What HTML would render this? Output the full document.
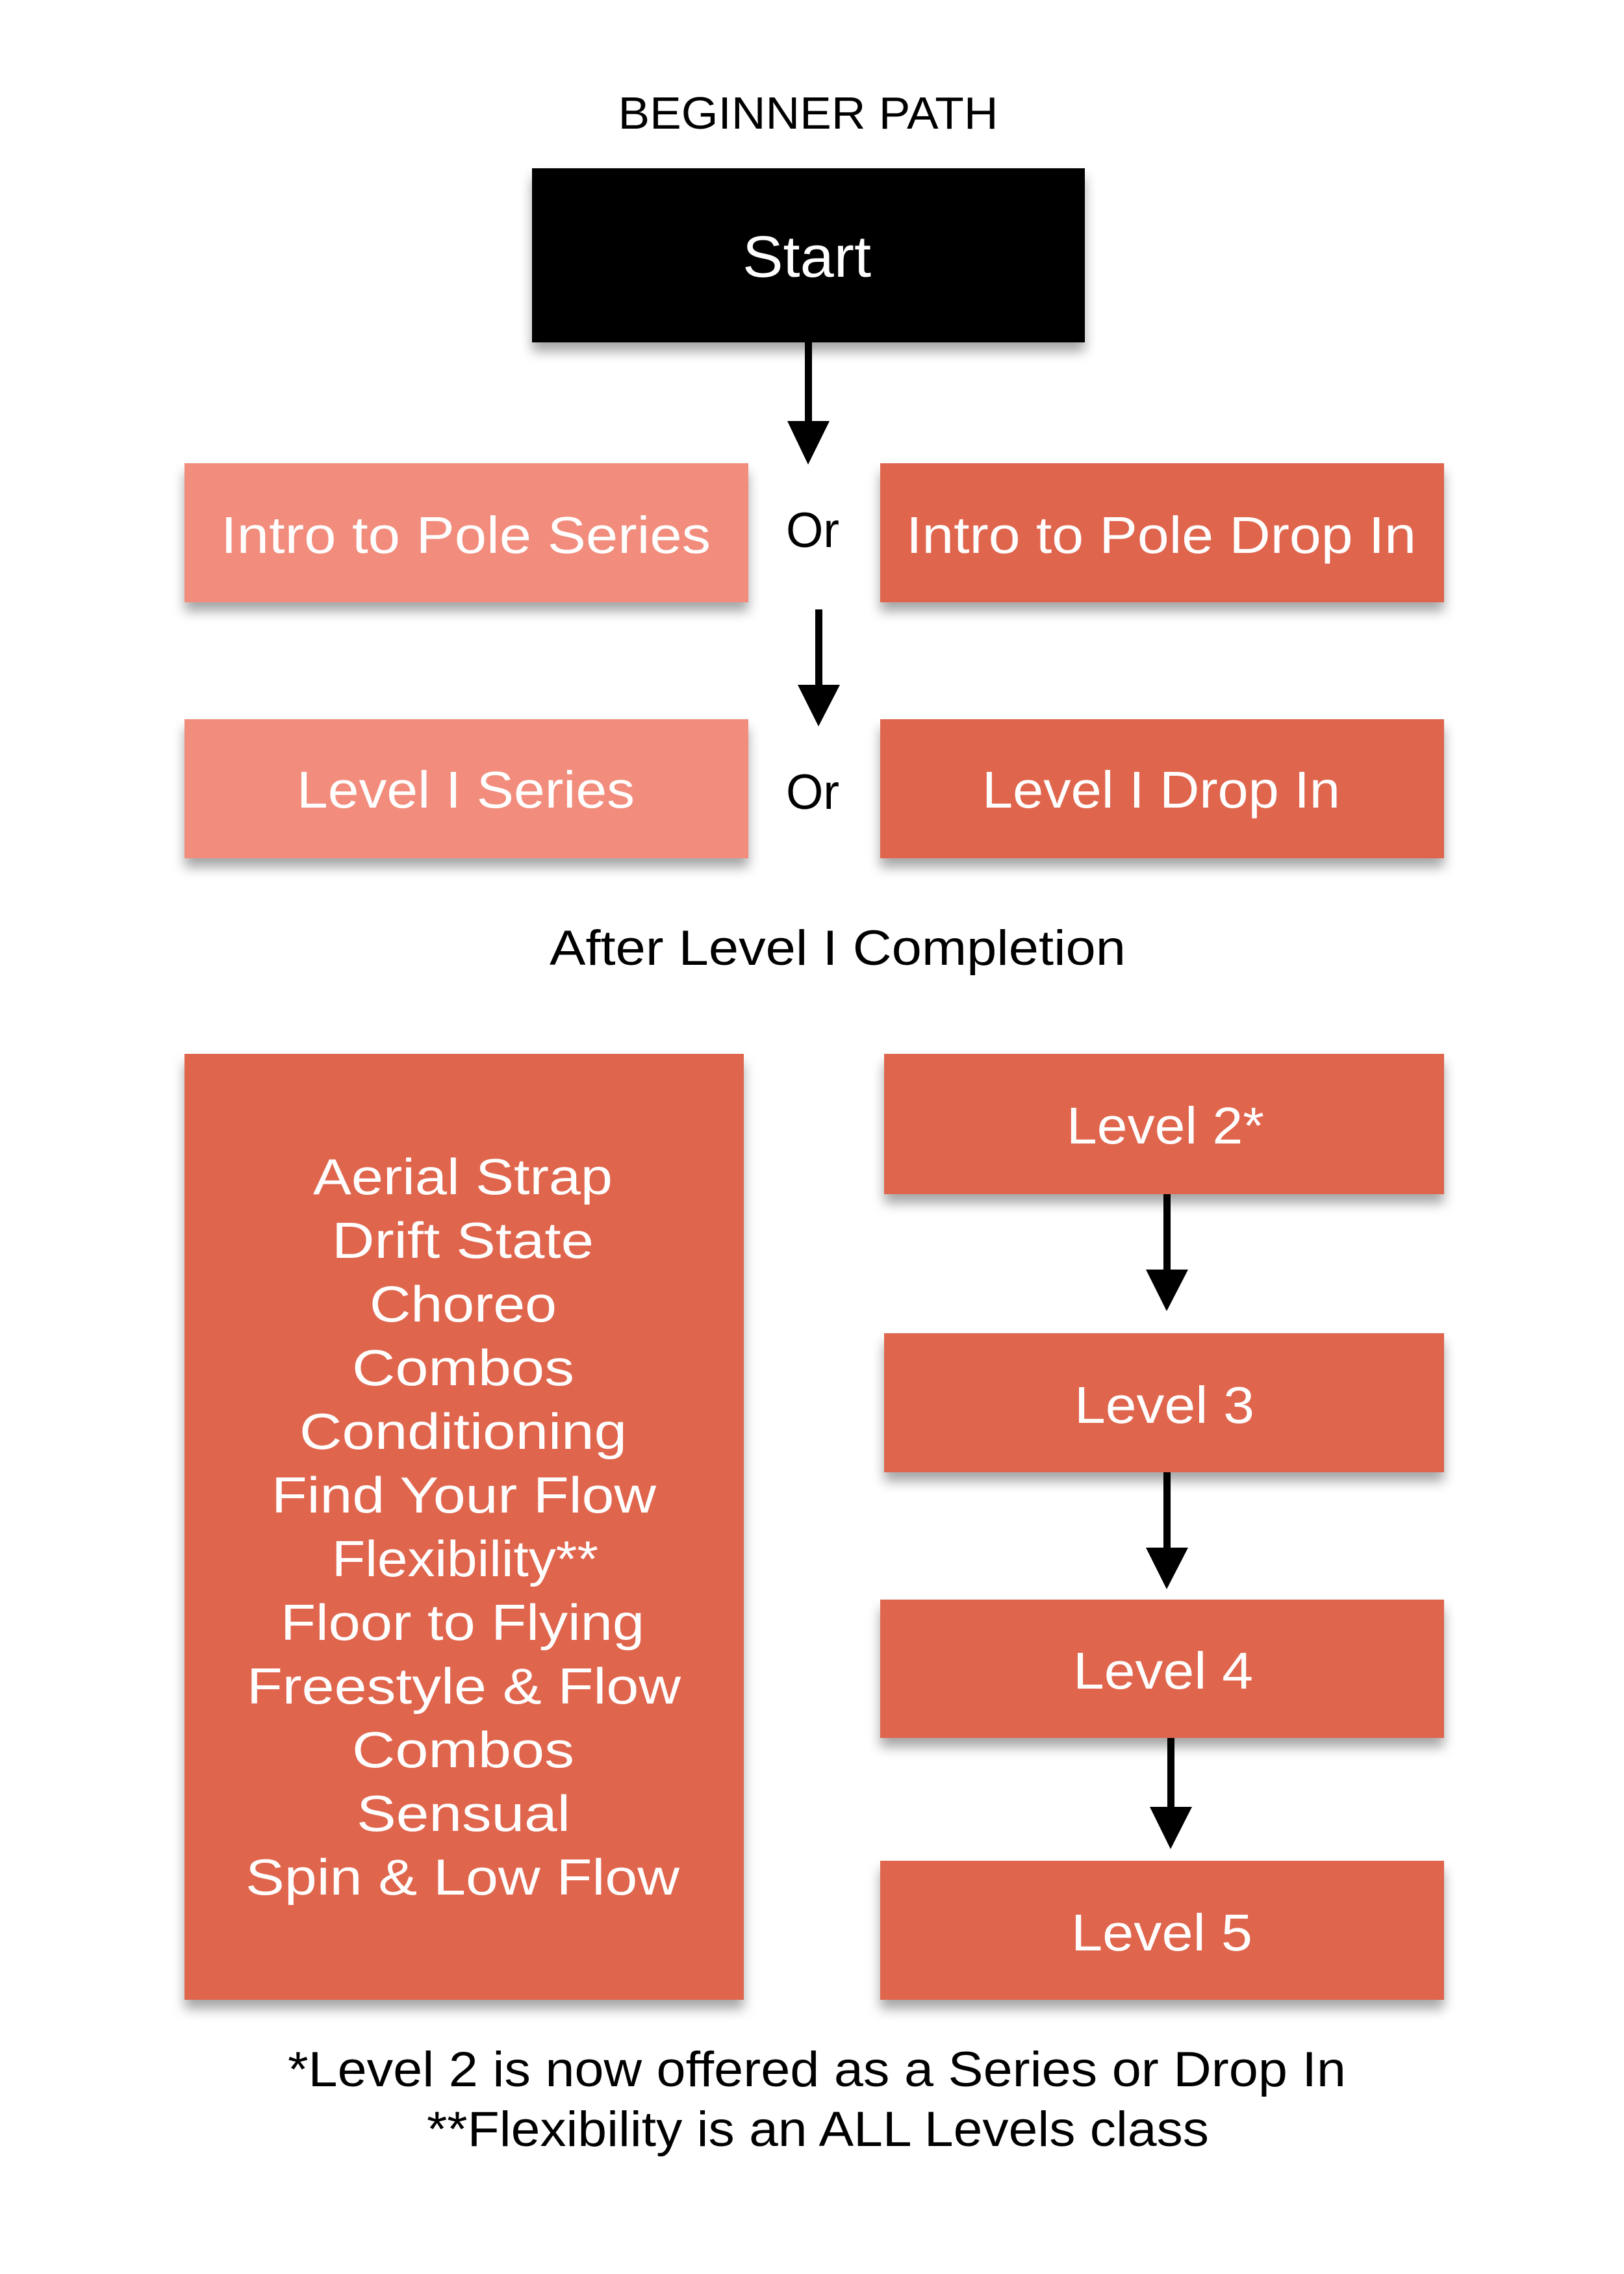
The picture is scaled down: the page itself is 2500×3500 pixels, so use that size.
<!DOCTYPE html>
<html><head><meta charset="utf-8"><style>
html,body{margin:0;padding:0;background:#fff;}
svg{display:block;}
text{font-family:"Liberation Sans",sans-serif;}
</style></head><body>
<svg width="2500" height="3500" viewBox="0 0 2500 3500" xmlns="http://www.w3.org/2000/svg">
<defs>
<filter id="sh" x="-10%" y="-10%" width="120%" height="140%">
<feDropShadow dx="0" dy="14" stdDeviation="9" flood-color="#000" flood-opacity="0.35"/>
</filter>
</defs>
<rect width="2500" height="3500" fill="#fff"/>
<text x="1244" y="198" font-size="70" text-anchor="middle" textLength="585" lengthAdjust="spacingAndGlyphs" fill="#000">BEGINNER PATH</text>
<rect x="819" y="259" width="851" height="268" fill="#000" filter="url(#sh)"/>
<text x="1242" y="426" font-size="90" text-anchor="middle" textLength="198" lengthAdjust="spacingAndGlyphs" fill="#fff">Start</text>

<g fill="#000">
<rect x="1239" y="527" width="11" height="125"/><polygon points="1212,648 1277,648 1244,715"/>
<rect x="1255" y="938" width="11" height="120"/><polygon points="1228,1054 1293,1054 1260,1118"/>
<rect x="1791" y="1838" width="11" height="120"/><polygon points="1764,1954 1829,1954 1796,2018"/>
<rect x="1791" y="2266" width="11" height="120"/><polygon points="1764,2382 1829,2382 1796,2446"/>
<rect x="1797" y="2675" width="11" height="110"/><polygon points="1770,2781 1835,2781 1802,2846"/>
</g>

<g filter="url(#sh)">
<rect x="284" y="713" width="868" height="214" fill="#F28C7B"/>
<rect x="1355" y="713" width="868" height="214" fill="#E0654E"/>
<rect x="284" y="1107" width="868" height="214" fill="#F28C7B"/>
<rect x="1355" y="1107" width="868" height="214" fill="#E0654E"/>
<rect x="284" y="1622" width="861" height="1456" fill="#E0654E"/>
<rect x="1361" y="1622" width="862" height="216" fill="#E0654E"/>
<rect x="1361" y="2052" width="862" height="214" fill="#E0654E"/>
<rect x="1355" y="2462" width="868" height="213" fill="#E0654E"/>
<rect x="1355" y="2864" width="868" height="214" fill="#E0654E"/>
</g>

<g fill="#fff" font-size="80">
<text x="340" y="851" textLength="754" lengthAdjust="spacingAndGlyphs">Intro to Pole Series</text>
<text x="1395" y="851" textLength="785" lengthAdjust="spacingAndGlyphs">Intro to Pole Drop In</text>
<text x="457" y="1243" textLength="520" lengthAdjust="spacingAndGlyphs">Level I Series</text>
<text x="1512" y="1243" textLength="551" lengthAdjust="spacingAndGlyphs">Level I Drop In</text>
<text x="1642" y="1760" textLength="304" lengthAdjust="spacingAndGlyphs">Level 2*</text>
<text x="1654" y="2190" textLength="277" lengthAdjust="spacingAndGlyphs">Level 3</text>
<text x="1652" y="2599" textLength="277" lengthAdjust="spacingAndGlyphs">Level 4</text>
<text x="1649" y="3002" textLength="279" lengthAdjust="spacingAndGlyphs">Level 5</text>
</g>

<g fill="#fff" font-size="78">
<text x="482" y="1838" textLength="461" lengthAdjust="spacingAndGlyphs">Aerial Strap</text>
<text x="511" y="1936" textLength="403" lengthAdjust="spacingAndGlyphs">Drift State</text>
<text x="569" y="2034" textLength="288" lengthAdjust="spacingAndGlyphs">Choreo</text>
<text x="542" y="2132" textLength="342" lengthAdjust="spacingAndGlyphs">Combos</text>
<text x="461" y="2230" textLength="504" lengthAdjust="spacingAndGlyphs">Conditioning</text>
<text x="418" y="2328" textLength="592" lengthAdjust="spacingAndGlyphs">Find Your Flow</text>
<text x="511" y="2426" textLength="410" lengthAdjust="spacingAndGlyphs">Flexibility**</text>
<text x="432" y="2524" textLength="560" lengthAdjust="spacingAndGlyphs">Floor to Flying</text>
<text x="380" y="2622" textLength="668" lengthAdjust="spacingAndGlyphs">Freestyle &amp; Flow</text>
<text x="542" y="2720" textLength="342" lengthAdjust="spacingAndGlyphs">Combos</text>
<text x="549" y="2818" textLength="329" lengthAdjust="spacingAndGlyphs">Sensual</text>
<text x="378" y="2916" textLength="668" lengthAdjust="spacingAndGlyphs">Spin &amp; Low Flow</text>
</g>

<g fill="#000" font-size="76">
<text x="1210" y="842" textLength="82" lengthAdjust="spacingAndGlyphs">Or</text>
<text x="1210" y="1245" textLength="82" lengthAdjust="spacingAndGlyphs">Or</text>
<text x="846" y="1485" textLength="887" lengthAdjust="spacingAndGlyphs">After Level I Completion</text>
<text x="443" y="3211" textLength="1629" lengthAdjust="spacingAndGlyphs">*Level 2 is now offered as a Series or Drop In</text>
<text x="657" y="3303" textLength="1204" lengthAdjust="spacingAndGlyphs">**Flexibility is an ALL Levels class</text>
</g>
</svg>
</body></html>
